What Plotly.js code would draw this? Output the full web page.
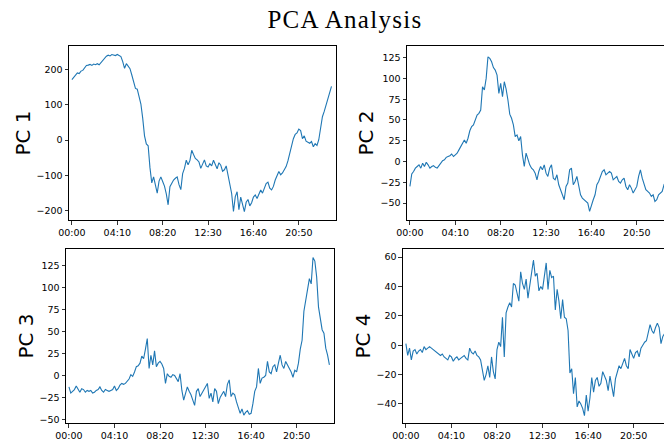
<!DOCTYPE html>
<html>
<head>
<meta charset="utf-8">
<script src="https://cdn.plot.ly/plotly-3.0.1.min.js"></script>
<style>
html, body { margin: 0; padding: 0; overflow: hidden; background: #ffffff; }
#chart { width: 690px; height: 441px; }
#chart .gtitle { letter-spacing: 1.3px; }
</style>
</head>
<body>
<div id="chart"></div>
<script>
// Sample step (index units, 5-minute samples)
const step = 2;
const tickIndex = [0, 50, 100, 150, 200, 250];
const tickLabels = ["00:00", "04:10", "08:20", "12:30", "16:40", "20:50"];
const seriesNames = ["PC 1", "PC 2", "PC 3", "PC 4"];

const pc1 = [171,178,186,190,188,195,197,204,211,212,
 214,211,215,213,216,213,219,226,231,237,
 240,238,242,241,239,242,238,236,222,203,
 216,209,202,184,160,146,144,122,102,62,
 12,-11,-16,-78,-121,-104,-126,-150,-116,-104,
 -117,-130,-152,-183,-132,-121,-113,-108,-104,-126,
 -140,-95,-80,-57,-70,-58,-29,-41,-52,-56,
 -62,-80,-66,-56,-73,-76,-67,-73,-57,-70,
 -81,-64,-71,-88,-84,-73,-96,-124,-151,-202,
 -160,-146,-197,-161,-184,-202,-176,-168,-186,-177,
 -161,-155,-165,-151,-141,-150,-136,-123,-119,-136,
 -141,-131,-113,-101,-89,-98,-93,-84,-75,-59,
 -38,-16,4,16,20,31,27,4,12,-3,
 -5,-9,-4,-19,-10,-15,1,29,66,81,
 99,113,128,152];

const pc2 = [-30,-15,-12,-8,-6,-4,-8,-2,-6,-1,
 -4,-8,-6,-5,-7,-8,-5,-2,1,2,
 5,6,7,9,6,8,10,14,18,23,
 26,22,28,37,42,44,50,56,58,62,
 90,86,100,126,124,120,113,110,104,82,
 94,78,96,87,74,57,52,44,30,32,
 25,30,8,-6,10,2,-4,-8,-10,-14,
 -22,-12,-6,-10,-4,-14,-18,-8,-4,-20,
 -22,-16,-28,-34,-40,-46,-30,-26,-10,-8,
 -28,-24,-18,-30,-40,-44,-46,-48,-50,-60,
 -52,-46,-40,-28,-24,-18,-12,-10,-16,-14,
 -12,-14,-22,-20,-18,-24,-26,-22,-20,-30,
 -34,-28,-32,-38,-34,-30,-18,-10,-20,-26,
 -34,-36,-38,-42,-40,-48,-46,-40,-38,-36,
 -28,-30,-32,-28];

const pc3 = [-13,-20,-18,-16,-12,-16,-19,-15,-16,-19,
 -17,-18,-17,-20,-19,-17,-16,-13,-17,-19,
 -16,-17,-18,-17,-16,-12,-17,-15,-11,-9,
 -10,-9,-7,-4,1,-1,4,10,11,14,
 22,19,30,42,8,23,12,28,10,14,
 16,13,8,-9,2,-1,-2,1,0,-4,
 -7,2,-17,-28,-20,-13,-18,-22,-28,-34,
 -18,-15,-24,-20,-17,-13,-9,-26,-20,-30,
 -15,-18,-32,-25,-22,-18,-24,-10,-5,-24,
 -20,-22,-30,-36,-43,-38,-45,-42,-40,-44,
 -43,-32,-18,-13,8,-9,-3,-2,0,16,
 4,2,10,12,4,14,23,12,8,16,
 12,8,4,-2,6,4,14,30,40,73,
 86,97,110,104,134,130,112,78,62,52,
 48,31,23,12];

const pc4 = [1,-7,-2,-10,-4,-3,-6,-4,-3,-5,
 -1,-3,-2,-1,-2,-3,-4,-5,-6,-7,
 -6,-8,-9,-10,-7,-8,-11,-9,-8,-10,
 -9,-8,-7,-9,-10,-2,-5,-6,-4,-7,
 -8,-10,-16,-24,-20,-14,-22,-8,-18,-23,
 -3,2,-1,19,-8,22,26,29,26,42,
 41,36,30,50,42,38,45,32,40,47,
 58,47,49,37,40,38,46,56,38,51,
 46,47,24,38,30,18,31,19,18,10,
 -19,-16,-33,-22,-42,-38,-40,-43,-48,-34,
 -45,-36,-22,-32,-24,-22,-28,-26,-18,-21,
 -24,-31,-21,-28,-35,-23,-18,-14,-16,-12,
 -9,-14,-16,-3,-6,-9,-5,-4,-8,-2,
 0,2,3,8,14,10,8,12,15,12,
 1,6,8,10];

const allSeries = [pc1, pc2, pc3, pc4];

const lineColor = "#1f77b4";
const traces = allSeries.map((vals, k) => ({
  type: "scatter",
  mode: "lines",
  x: vals.map((_, j) => j * step),
  y: vals,
  line: { color: lineColor, width: 1.1 },
  xaxis: k === 0 ? "x" : "x" + (k + 1),
  yaxis: k === 0 ? "y" : "y" + (k + 1),
  showlegend: false,
  hoverinfo: "skip"
}));

const tickFont = { family: "DejaVu Sans", size: 9.5, color: "#000000" };
const titleFont = { family: "DejaVu Sans", size: 20, color: "#000000" };

function xAxis(domain, anchor) {
  return {
    domain: domain, anchor: anchor,
    range: [-3.2, 291],
    tickmode: "array", tickvals: tickIndex, ticktext: tickLabels,
    ticks: "outside", ticklen: 3.5, tickwidth: 0.8, tickcolor: "#000",
    showline: true, linecolor: "#000", linewidth: 1, mirror: true,
    showgrid: false, zeroline: false, tickfont: tickFont
  };
}
function yAxis(domain, anchor, range, dtick, title, standoff) {
  return {
    domain: domain, anchor: anchor,
    range: range, dtick: dtick, tick0: 0,
    ticks: "outside", ticklen: 3.5, tickwidth: 0.8, tickcolor: "#000",
    showline: true, linecolor: "#000", linewidth: 1, mirror: true,
    showgrid: false, zeroline: false, tickfont: tickFont,
    title: { text: title, font: titleFont, standoff: standoff }
  };
}

const layout = {
  width: 690, height: 441,
  margin: { l: 0, r: 0, t: 0, b: 0 },
  paper_bgcolor: "#ffffff", plot_bgcolor: "#ffffff",
  title: {
    text: "PCA Analysis",
    font: { family: "Liberation Serif", size: 25, color: "#000" },
    x: 0.5, xanchor: "center", xref: "paper",
    y: 0.957, yanchor: "middle", yref: "paper"
  },
  xaxis:  xAxis([0.1, 0.487], "y"),
  yaxis:  yAxis([0.5011, 0.8957], "x", [-226, 266], 100, seriesNames[0], 0),
  xaxis2: xAxis([0.5899, 0.9768], "y2"),
  yaxis2: yAxis([0.5011, 0.8957], "x2", [-70.4, 139], 25, seriesNames[1], 1),
  xaxis3: xAxis([0.0957, 0.484], "y3"),
  yaxis3: yAxis([0.0408, 0.4354], "x3", [-54, 143.7], 25, seriesNames[2], 0),
  xaxis4: xAxis([0.584, 0.9725], "y4"),
  yaxis4: yAxis([0.0408, 0.4354], "x4", [-53, 65.5], 20, seriesNames[3], 0)
};

Plotly.newPlot("chart", traces, layout, { displayModeBar: false, staticPlot: true });
</script>
</body>
</html>
